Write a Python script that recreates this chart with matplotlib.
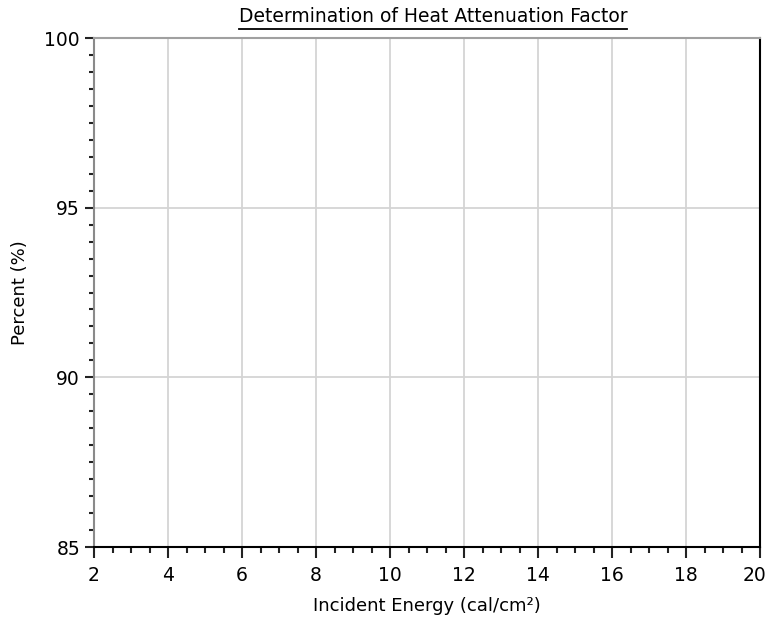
import matplotlib
matplotlib.use('Agg')
import matplotlib.pyplot as plt
from matplotlib.lines import Line2D
from matplotlib.ticker import MultipleLocator, FuncFormatter

plt.rcParams['font.family'] = ['DejaVu Sans']

title = 'Determination of Heat Attenuation Factor'
x_label = 'Incident Energy (cal/cm²)'
y_label = 'Percent (%)'
x_range = [2, 20]
y_range = [85, 100]
x_major = 2
y_major = 5
minor_step = 0.5

fig = plt.figure(figsize=(7.7, 6.21), dpi=100)
# axes box: left 94px, right 760px, top 38px, bottom 547px
ax = fig.add_axes([94 / 770, (621 - 547) / 621, 666 / 770, 509 / 621])

ax.set_xlim(x_range)
ax.set_ylim(y_range)
ax.xaxis.set_major_locator(MultipleLocator(x_major))
ax.xaxis.set_minor_locator(MultipleLocator(minor_step))
ax.yaxis.set_major_locator(MultipleLocator(y_major))
ax.yaxis.set_minor_locator(MultipleLocator(minor_step))

# last x label is drawn separately so it stays inside the right edge
ax.xaxis.set_major_formatter(FuncFormatter(
    lambda v, pos: '' if abs(v - x_range[1]) < 1e-9 else f'{v:g}'))

ax.grid(True, which='major', color='#d4d4d4', linewidth=1.3)
ax.set_axisbelow(True)

ax.spines['left'].set_color('#8a8a8a')
ax.spines['top'].set_color('#a0a0a0')
ax.spines['bottom'].set_color('black')
ax.spines['right'].set_color('black')
for s in ax.spines.values():
    s.set_linewidth(1.5)

x_len, x_pad = 8, 5.5
ax.tick_params(axis='x', which='major', length=x_len, width=1.5, color='#222222',
               labelsize=13.5, pad=x_pad)
ax.tick_params(axis='x', which='minor', length=4.3, width=1.5, color='#222222')
ax.tick_params(axis='y', which='major', length=6.5, width=1.5, color='#222222',
               labelsize=13.5, pad=3.5)
ax.tick_params(axis='y', which='minor', length=3.6, width=1.5, color='#222222')

ax.annotate(f'{x_range[1]:g}', xy=(x_range[1], 0), xycoords=ax.get_xaxis_transform(),
            xytext=(-4, -(x_len + x_pad)), textcoords='offset points',
            ha='center', va='top', fontsize=13.5, annotation_clip=False)

ax.set_xlabel(x_label, fontsize=13)
ax.set_ylabel(y_label, fontsize=13)
ax.xaxis.set_label_coords(0.5, -0.098)
ax.yaxis.set_label_coords(-0.097, 0.5)

t = fig.text(433 / 770, 1 - 17 / 621, title, fontsize=13.5, ha='center', va='center')

fig.canvas.draw()
bb = t.get_window_extent().transformed(fig.transFigure.inverted())
uy = 1 - 28.5 / 621
fig.add_artist(Line2D([bb.x0, bb.x1], [uy, uy],
                      transform=fig.transFigure, color='black', linewidth=1.3))

fig.savefig('out.png', dpi=100)
